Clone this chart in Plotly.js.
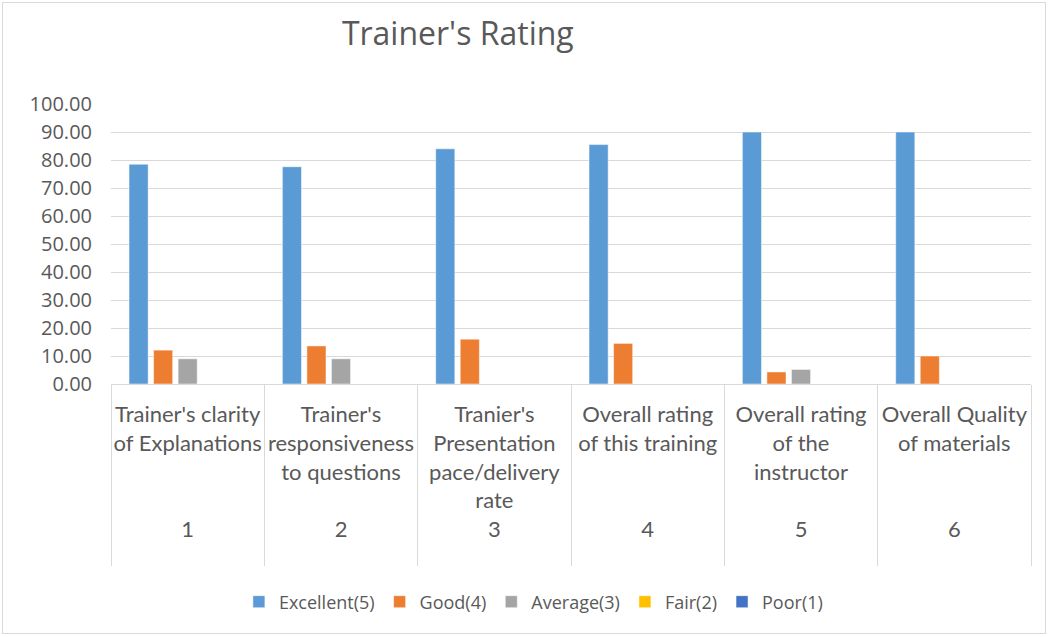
<!DOCTYPE html>
<html>
<head>
<meta charset="utf-8">
<script src="https://cdn.plot.ly/plotly-3.0.1.min.js"></script>
<style>
  html, body { margin: 0; padding: 0; background: #fff; }
  #wrap { position: relative; width: 1050px; height: 637px; }
  #chart { width: 1050px; height: 637px; }
  #frame { position: absolute; left: 2px; top: 2px; width: 1042px; height: 630px; border: 1px solid #d9d9d9; pointer-events: none; }
</style>
</head>
<body>
<div id="wrap"><div id="chart"></div><div id="frame"></div></div>
<script>
const groupNumbers = ["1", "2", "3", "4", "5", "6"];
const questionLines = [
  ["Trainer's clarity", "of Explanations"],
  ["Trainer's", "responsiveness", "to questions"],
  ["Tranier's", "Presentation", "pace/delivery", "rate"],
  ["Overall rating", "of this training"],
  ["Overall rating", "of the", "instructor"],
  ["Overall Quality", "of materials"]
];
const seriesNames = ["Excellent(5)", "Good(4)", "Average(3)", "Fair(2)", "Poor(1)"];
const excellent = [78.5, 77.6, 84.0, 85.5, 90.0, 90.0];
const good = [12.1, 13.6, 16.0, 14.5, 4.3, 10.0];
const average = [9.0, 9.0, 0, 0, 5.2, 0];
const fair = [0, 0, 0, 0, 0, 0];
const poor = [0, 0, 0, 0, 0, 0];
const colors = ["#5B9BD5", "#ED7D31", "#A5A5A5", "#FFC000", "#4472C4"];

// two-level category labels: question text (padded to 4 lines), then the group number
const categoryLabels = questionLines.map((lines, i) => {
  const padded = lines.slice();
  while (padded.length < 4) padded.push(" ");
  return padded.concat([groupNumbers[i]]).join("<br>");
});

const MAINFONT = "'Open Sans', 'Noto Sans', 'DejaVu Sans', sans-serif";
const CATFONT = "Lato, 'Open Sans', sans-serif";
const values = [excellent, good, average, fair, poor];
const traces = values.map((v, i) => ({
  type: "bar",
  name: seriesNames[i],
  x: categoryLabels,
  y: v,
  marker: { color: colors[i], line: { color: "#ffffff", width: 0.5 } },
  hoverinfo: "y+name"
}));

const layout = {
  width: 1050,
  height: 637,
  margin: { l: 111, r: 19, t: 104, b: 253 },
  paper_bgcolor: "#ffffff",
  plot_bgcolor: "#ffffff",
  font: { family: MAINFONT, color: "#595959", size: 18 },
  title: {
    text: "Trainer's Rating",
    font: { family: MAINFONT, size: 32, color: "#595959" },
    xref: "container", x: 0.436, xanchor: "center",
    yref: "container", y: 0.947, yanchor: "middle"
  },
  barmode: "group",
  bargap: 0.2,
  bargroupgap: 0.22,
  xaxis: {
    type: "category",
    tickson: "boundaries",
    ticks: "outside",
    ticklen: 181,
    tickcolor: "#d9d9d9",
    tickwidth: 1,
    showline: true,
    linecolor: "#d9d9d9",
    linewidth: 1,
    ticklabelstandoff: 11,
    tickfont: { family: CATFONT, size: 22, color: "#595959" },
    showgrid: false,
    tickangle: 0
  },
  yaxis: {
    range: [0, 100],
    dtick: 10,
    tick0: 0,
    tickformat: ".2f",
    showgrid: true,
    gridcolor: "#d9d9d9",
    gridwidth: 1,
    zeroline: false,
    showline: false,
    ticks: "",
    ticklabelstandoff: 18,
    tickfont: { family: MAINFONT, size: 20, color: "#595959" }
  },
  legend: {
    orientation: "h",
    xref: "container", x: 0.508, xanchor: "center",
    yref: "container", y: 0.055, yanchor: "middle",
    font: { family: MAINFONT, size: 18, color: "#595959" },
    itemwidth: 30,
    traceorder: "normal"
  },
  showlegend: true
};

Plotly.newPlot("chart", traces, layout, { displayModeBar: false, staticPlot: true });
</script>
</body>
</html>
